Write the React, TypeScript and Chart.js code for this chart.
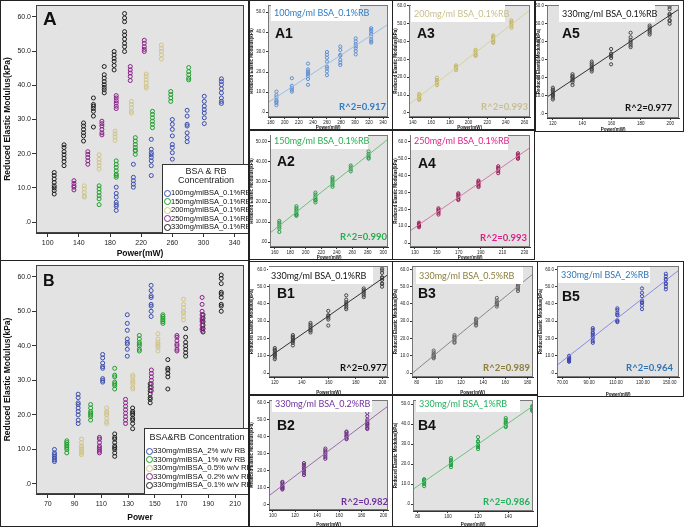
import React, { useEffect, useRef } from "react";
import { Chart, registerables } from "chart.js";
Chart.register(...registerables);

// ================= DATA =================
// Panel A : power (mW) per cluster and reduced elastic modulus (kPa) values
const A_BLUE_X = [188, 210, 233, 260, 279, 301, 323];
const A_BLUE_Y = [[3.4, 4.6, 5.1, 5.8, 7.3, 8.4, 10.2], [10.2, 11.1, 12.1, 13.1, 16.9], [13.6, 16.5, 17.9, 18.9, 19.7, 20.3, 21.3, 24.2], [18.4, 20.3, 21.8, 22.7, 25.2, 27.1, 28.6, 30], [23.5, 24.7, 26.1, 28.1, 28.6, 31, 32.7], [28.8, 30.5, 31.9, 32.9, 33.9, 35.3, 36.8], [34.7, 35.3, 36.3, 37.8, 39, 40.2, 41.1, 41.9]];
const A_GREEN_X = [166, 188, 212.5, 234.5, 258, 281];
const A_GREEN_Y = [[5.1, 6.8, 7.7, 8.7, 9.7, 10.6], [13.1, 13.6, 14, 15, 16, 16.9, 17.9], [19.8, 20.8, 21, 21.8, 22.7, 23.7, 24.7], [27.6, 28.6, 29.5, 30.5, 31.5, 32.4], [35.3, 36.3, 37.3, 38.2], [41.6, 42.1, 43.1, 44, 45.2]];
const A_TAN_X = [147, 166, 186.5, 207.5, 226.5, 246];
const A_TAN_Y = [[7.3, 7.7, 8.7, 9.7, 10.6], [15.5, 16.5, 17.4, 18.4, 19.7], [23.9, 24.9, 25.8, 26.6], [31.9, 32.4, 33.4, 34.4, 35.3], [39.2, 39.7, 40.7, 41.6, 42.6, 43.3], [47.7, 48.9, 49.9, 50.8, 51.8]];
const A_PURPLE_X = [133.7, 151.5, 169.6, 188, 206, 224];
const A_PURPLE_Y = [[9.4, 10.2, 10.6, 11.3, 12.1], [16.9, 17.9, 18.9, 19.8, 20.6], [25.5, 26.1, 27.1, 28.1, 28.8, 29.5], [33.2, 33.9, 34.8, 35.5, 36.3, 37], [41.4, 42.6, 43.6, 44.5, 45.5], [49.9, 50.5, 51.3, 52.3, 53.2]];
const A_BLACK_X = [108.4, 121, 146, 158.7, 172.6, 185.3, 198.7];
const A_BLACK_Y = [[8.2, 9.2, 10, 10.6, 11.6, 12.6, 13.6, 14.5], [16.5, 17.7, 18.7, 19.7, 20.6, 21.8, 22.6], [23.7, 25.2, 26.1, 27.1, 28.1, 29], [27.8, 31, 32.4, 33.2, 33.9, 34.4, 36.3], [37.8, 38.7, 39.4, 40.2, 41.1, 42.1, 43.1, 45.5], [44.5, 45.8, 47, 47.9, 48.9, 49.9], [49.9, 51.3, 52.3, 53.5, 54.7, 55.7, 58.6, 59.7, 61]];

// Panel B
const B_BLUE_X = [75, 92.7, 111, 129.4, 147.2];
const B_BLUE_Y = [[6.5, 7, 7.5, 8, 8.5, 9, 10], [17.5, 18.5, 20, 21, 22, 23, 23.5, 25, 26], [29.5, 30, 30.5, 33.5, 34, 35, 36.5, 37.5], [37, 39, 40.5, 41, 42, 44.5, 46.5, 49], [48.5, 50, 51.5, 52, 54, 54.5, 56, 57.5]];
const B_GREEN_X = [84.2, 102, 120, 138.4, 156];
const B_GREEN_Y = [[9, 10, 10.5, 11, 11.5, 12, 12.5], [18.5, 19.5, 20, 20.5, 21, 22, 23], [27.5, 28.5, 29, 29.5, 31, 31.5, 33.5], [38.5, 39, 40, 40.5, 41, 42, 43], [46.5, 47, 47.5, 48, 48.5, 49]];
const B_TAN_X = [95.2, 114, 133.5, 152.3, 171.4];
const B_TAN_Y = [[8.5, 9, 9.5, 10, 10.5, 11, 12, 13], [17.5, 18, 19, 20, 20.5, 21, 22], [27.5, 28, 29, 29.5, 30, 31, 31.5], [38.5, 39.5, 40, 40.5, 41, 42, 43.5], [47.5, 48.5, 49.5, 50, 51, 52, 53.5]];
const B_PURPLE_X = [108.6, 128.1, 147.4, 166.5, 185.3];
const B_PURPLE_Y = [[9, 9.5, 10, 10.5, 11, 12, 13, 13.5], [17.5, 18.5, 19.5, 20.5, 21.5, 22.5, 23.5, 24.5], [27, 28, 29, 30, 31, 32, 33], [38.5, 39, 40, 40.5, 41.5, 42.5, 43], [44.5, 45, 46, 47, 47.5, 48, 49, 50, 52, 54]];
const B_BLACK_X = [120, 133.4, 146.5, 159.7, 173, 186, 199.6];
const B_BLACK_Y = [[8, 9, 10, 10.5, 11, 12, 13, 13.5, 14.5], [16, 17.5, 18.5, 19, 20, 20.5, 21, 22], [23.5, 24.5, 25, 26, 27, 28, 29], [27.5, 31, 32, 33, 33.5, 36], [37, 38, 39, 40, 41, 42.5, 45], [44, 45, 46, 47, 48, 49], [50, 51.5, 52, 54, 55, 55.5, 58, 59.5, 60.5]];

// Legends / labels
const A_LEGEND = ["100mg/mlBSA_0.1%RB", "150mg/mlBSA_0.1%RB", "200mg/mlBSA_0.1%RB", "250mg/mlBSA_0.1%RB", "330mg/mlBSA_0.1%RB"];
const B_LEGEND = ["330mg/mlBSA_2% w/v RB", "330mg/mlBSA_1% w/v RB", "330mg/mlBSA_0.5% w/v RB", "330mg/mlBSA_0.2% w/v RB", "330mg/mlBSA_0.1% w/v RB"];
const R2 = { A1: "R^2=0.917", A2: "R^2=0.990", A3: "R^2=0.993", A4: "R^2=0.993", A5: "R^2=0.977", B1: "R^2=0.977", B2: "R^2=0.982", B3: "R^2=0.989", B4: "R^2=0.986", B5: "R^2=0.964" };

// Tick values
const A_X_TICKS = [100, 140, 180, 220, 260, 300, 340];
const B_X_TICKS = [70, 90, 110, 130, 150, 170, 190, 210];
const Y_TICKS_60 = [0, 10, 20, 30, 40, 50, 60];
const Y_TICKS_50 = [0, 10, 20, 30, 40, 50];
const A1_X_TICKS = [180, 200, 220, 240, 260, 280, 300, 320, 340];
const A2_X_TICKS = [160, 180, 200, 220, 240, 260, 280, 300];
const A3_X_TICKS = [140, 160, 180, 200, 220, 240, 260];
const A4_X_TICKS = [130, 150, 170, 190, 210, 230];
const A5_X_TICKS = [120, 140, 160, 180, 200];
const B2_X_TICKS = [100, 120, 140, 160, 180, 200];
const B3_X_TICKS = [80, 100, 120, 140, 160, 180];
const B4_X_TICKS = [80, 100, 120, 140];
const B5_X_TICKS = [70, 90, 110, 130, 150];

// ================= HELPERS =================
type Pt = { x: number; y: number };
const toPts = (xs: number[], ys: number[][]): Pt[] => xs.flatMap((x, i) => ys[i].map((y) => ({ x, y })));
function linFit(p: Pt[]) {
  const n = p.length;
  let sx = 0, sy = 0, sxx = 0, sxy = 0;
  for (const q of p) { sx += q.x; sy += q.y; sxx += q.x * q.x; sxy += q.x * q.y; }
  const m = (n * sxy - sx * sy) / (n * sxx - sx * sx);
  return { m, b: (sy - m * sx) / n };
}
const FONT = "'Liberation Sans', Arial, Helvetica, sans-serif";
const LFONT = "Lato, 'Open Sans', sans-serif";
const f1 = (v: number) => (v === 0 ? ".0" : v.toFixed(1));
const f2 = (v: number) => (v === 0 ? ".00" : v.toFixed(2));
const fi = (v: number) => String(v);

const C = { blue: "#3b4db0", green: "#1f9e2c", tan: "#d1c589", purple: "#8a2089", black: "#1e1e1e" };

const framePlugin = {
  id: "frame",
  beforeDraw(chart: any, _a: any, opts: any) {
    const { ctx, chartArea: a } = chart;
    ctx.save();
    ctx.fillStyle = opts.bg || "#e4e4e4";
    ctx.fillRect(a.left, a.top, a.right - a.left, a.bottom - a.top);
    ctx.restore();
  },
  afterDraw(chart: any, _a: any, opts: any) {
    const { ctx, chartArea: a } = chart;
    ctx.save();
    ctx.strokeStyle = opts.stroke || "#555";
    ctx.lineWidth = 1;
    ctx.strokeRect(a.left + 0.5, a.top + 0.5, a.right - a.left - 1, a.bottom - a.top - 1);
    ctx.restore();
  },
};

type Box = { l: number; t: number; r: number; b: number };
interface PlotSpec {
  box: Box; plot: Box;
  xMin: number; xMax: number; xTicks: number[]; xFmt: (v: number) => string;
  yMin: number; yMax: number; yTicks: number[]; yFmt: (v: number) => string;
  datasets: any[];
  tickFont: number; titleFont: number; xTitle: string; yTitle: string;
  tickLen: number; xTickPad: number; yTickPad: number; xTitlePad: number; yTitlePad: number;
  bg: string; stroke: string;
}

function Plot({ s }: { s: PlotSpec }) {
  const ref = useRef<HTMLCanvasElement>(null);
  const W = s.box.r - s.box.l, H = s.box.b - s.box.t;
  useEffect(() => {
    const font = (size: number, bold = false) => ({ family: FONT, size, weight: (bold ? "bold" : "normal") as any, lineHeight: 1.2 });
    const chart = new Chart(ref.current as HTMLCanvasElement, {
      type: "scatter",
      data: { datasets: s.datasets },
      options: {
        animation: false, responsive: false, devicePixelRatio: 1, events: [],
        layout: { padding: { left: 0, top: s.plot.t - s.box.t, right: s.box.r - s.plot.r, bottom: 0 } },
        plugins: { legend: { display: false }, tooltip: { enabled: false }, frame: { bg: s.bg, stroke: s.stroke } } as any,
        scales: {
          x: {
            type: "linear", min: s.xMin, max: s.xMax, bounds: "data",
            afterBuildTicks: (sc: any) => { sc.ticks = s.xTicks.map((v) => ({ value: v })); },
            afterFit: (sc: any) => { sc.height = s.box.b - s.plot.b; sc.paddingLeft = 0; sc.paddingRight = 0; },
            grid: { display: true, drawOnChartArea: false, drawTicks: true, tickLength: s.tickLen, color: "#333", lineWidth: 1 },
            border: { display: true, color: "#333", width: 1 },
            ticks: { autoSkip: false, maxRotation: 0, minRotation: 0, padding: s.xTickPad, font: font(s.tickFont), color: "#222", callback: (v: any) => s.xFmt(Number(v)) },
            title: { display: true, text: s.xTitle, font: font(s.titleFont, true), color: "#111", padding: { top: 0, bottom: s.xTitlePad } },
          },
          y: {
            type: "linear", min: s.yMin, max: s.yMax, bounds: "data",
            afterBuildTicks: (sc: any) => { sc.ticks = s.yTicks.map((v) => ({ value: v })); },
            afterFit: (sc: any) => { sc.width = s.plot.l - s.box.l; sc.paddingTop = 0; sc.paddingBottom = 0; },
            grid: { display: true, drawOnChartArea: false, drawTicks: true, tickLength: s.tickLen, color: "#333", lineWidth: 1 },
            border: { display: true, color: "#333", width: 1 },
            ticks: { autoSkip: false, padding: s.yTickPad, font: font(s.tickFont), color: "#222", callback: (v: any) => s.yFmt(Number(v)) },
            title: { display: true, text: s.yTitle, font: font(s.titleFont, true), color: "#111", padding: { top: s.yTitlePad, bottom: 0 } },
          },
        },
      },
      plugins: [framePlugin],
    });
    return () => chart.destroy();
  }, []);
  return <canvas ref={ref} width={W} height={H} style={{ position: "absolute", left: s.box.l, top: s.box.t, width: W, height: H }} />;
}

// ================= MAIN PANELS =================
const mainDs = (list: [number[], number[][], string][]) =>
  list.map(([xs, ys, color]) => ({ data: toPts(xs, ys), borderColor: color, backgroundColor: "rgba(0,0,0,0)", pointRadius: 2, pointBorderWidth: 1, showLine: false }));

const MAIN_A: PlotSpec = {
  box: { l: 1, t: 0, r: 249, b: 260 }, plot: { l: 36, t: 3, r: 248, b: 233 },
  xMin: 85, xMax: 352, xTicks: A_X_TICKS, xFmt: fi, yMin: -3.2, yMax: 63.5, yTicks: Y_TICKS_60, yFmt: f1,
  datasets: mainDs([[A_BLUE_X, A_BLUE_Y, C.blue], [A_GREEN_X, A_GREEN_Y, C.green], [A_TAN_X, A_TAN_Y, C.tan], [A_PURPLE_X, A_PURPLE_Y, C.purple], [A_BLACK_X, A_BLACK_Y, C.black]]),
  tickFont: 7, titleFont: 8.5, xTitle: "Power(mW)", yTitle: "Reduced Elastic Modulus(kPa)",
  tickLen: 4, xTickPad: 2, yTickPad: 1, xTitlePad: 1, yTitlePad: 2, bg: "#e3e3e3", stroke: "#444",
};
const MAIN_B: PlotSpec = {
  box: { l: 1, t: 260, r: 249, b: 526 }, plot: { l: 36, t: 263, r: 248, b: 494 },
  xMin: 61.2, xMax: 216.6, xTicks: B_X_TICKS, xFmt: fi, yMin: -2.9, yMax: 63.4, yTicks: Y_TICKS_60, yFmt: f1,
  datasets: mainDs([[B_BLUE_X, B_BLUE_Y, C.blue], [B_GREEN_X, B_GREEN_Y, C.green], [B_TAN_X, B_TAN_Y, C.tan], [B_PURPLE_X, B_PURPLE_Y, C.purple], [B_BLACK_X, B_BLACK_Y, C.black]]),
  tickFont: 7, titleFont: 8.5, xTitle: "Power", yTitle: "Reduced Elastic Modulus(kPa)",
  tickLen: 4, xTickPad: 2, yTickPad: 1, xTitlePad: 3, yTitlePad: 2, bg: "#e3e3e3", stroke: "#444",
};

// ================= SMALL PANELS =================
interface Small {
  name: string; label: string; text: string; pt: string; line: string;
  xs: number[]; ys: number[][];
  box: Box; plot: Box; xMin: number; xMax: number; xTicks: number[]; xFmt: (v: number) => string;
  yMin: number; yMax: number; yTicks: number[]; yFmt: (v: number) => string;
  lab: Box; nameX: number; nameCY: number; r2R: number; r2CY: number;
}
const SMALL: Small[] = [
  { name: "A1", label: "100mg/ml BSA_0.1%RB", text: "#2e7cc4", pt: "#5f90d2", line: "#9cbde6", xs: A_BLUE_X, ys: A_BLUE_Y,
    box: { l: 248, t: 0, r: 393, b: 130 }, plot: { l: 268, t: 3, r: 391, b: 117 }, xMin: 176, xMax: 347, xTicks: A1_X_TICKS, xFmt: fi,
    yMin: -2.5, yMax: 53.5, yTicks: Y_TICKS_50, yFmt: f1, lab: { l: 271, t: 5, r: 360, b: 21 }, nameX: 275, nameCY: 33, r2R: 386, r2CY: 107 },
  { name: "A3", label: "200mg/ml BSA_0.1%RB", text: "#c9bf8c", pt: "#c2b668", line: "#d8d09c", xs: A_TAN_X, ys: A_TAN_Y,
    box: { l: 392, t: 0, r: 535, b: 130 }, plot: { l: 409, t: 3, r: 533, b: 117 }, xMin: 136, xMax: 266, xTicks: A3_X_TICKS, xFmt: fi,
    yMin: -2.3, yMax: 60.4, yTicks: Y_TICKS_60, yFmt: f1, lab: { l: 411, t: 5, r: 505, b: 22 }, nameX: 417, nameCY: 33, r2R: 528, r2CY: 107 },
  { name: "A5", label: "330mg/ml BSA_0.1%RB", text: "#111", pt: "#444", line: "#333", xs: B_BLACK_X, ys: B_BLACK_Y,
    box: { l: 535, t: 0, r: 684, b: 132 }, plot: { l: 547, t: 3, r: 681, b: 118 }, xMin: 116, xMax: 206, xTicks: A5_X_TICKS, xFmt: fi,
    yMin: -2.3, yMax: 60.4, yTicks: Y_TICKS_60, yFmt: f1, lab: { l: 559, t: 5, r: 655, b: 22 }, nameX: 562, nameCY: 33, r2R: 672, r2CY: 108 },
  { name: "A2", label: "150mg/ml BSA_0.1%RB", text: "#27ae4e", pt: "#259e45", line: "#6fc07a", xs: A_GREEN_X, ys: A_GREEN_Y,
    box: { l: 248, t: 130, r: 393, b: 260 }, plot: { l: 270, t: 131, r: 392, b: 247 }, xMin: 154, xMax: 306, xTicks: A2_X_TICKS, xFmt: fi,
    yMin: -2.4, yMax: 53.4, yTicks: Y_TICKS_50, yFmt: f2, lab: { l: 271, t: 132, r: 368, b: 149 }, nameX: 277, nameCY: 161, r2R: 387, r2CY: 237 },
  { name: "A4", label: "250mg/ml BSA_0.1%RB", text: "#de1f88", pt: "#9c1f58", line: "#d27aa4", xs: A_PURPLE_X, ys: A_PURPLE_Y,
    box: { l: 392, t: 130, r: 535, b: 260 }, plot: { l: 410, t: 131, r: 533, b: 247 }, xMin: 125.5, xMax: 235, xTicks: A4_X_TICKS, xFmt: fi,
    yMin: -2.3, yMax: 64, yTicks: Y_TICKS_60, yFmt: f1, lab: { l: 411, t: 132, r: 508, b: 150 }, nameX: 418, nameCY: 163, r2R: 527, r2CY: 238 },
  { name: "B1", label: "330mg/ml BSA_0.1%RB", text: "#111", pt: "#444", line: "#333", xs: B_BLACK_X, ys: B_BLACK_Y,
    box: { l: 248, t: 261, r: 393, b: 395 }, plot: { l: 269, t: 263, r: 392, b: 377 }, xMin: 115.7, xMax: 204, xTicks: A5_X_TICKS, xFmt: fi,
    yMin: -2.3, yMax: 62, yTicks: Y_TICKS_60, yFmt: f1, lab: { l: 268, t: 267, r: 373, b: 284 }, nameX: 277, nameCY: 293, r2R: 387, r2CY: 368 },
  { name: "B3", label: "330mg/ml BSA_0.5%RB", text: "#8c7d3a", pt: "#666", line: "#888", xs: B_TAN_X, ys: B_TAN_Y,
    box: { l: 392, t: 261, r: 538, b: 395 }, plot: { l: 412, t: 263, r: 536, b: 377 }, xMin: 75.6, xMax: 185, xTicks: B3_X_TICKS, xFmt: fi,
    yMin: -2.3, yMax: 62, yTicks: Y_TICKS_60, yFmt: f1, lab: { l: 416, t: 267, r: 523, b: 284 }, nameX: 418, nameCY: 293, r2R: 530, r2CY: 368 },
  { name: "B5", label: "330mg/ml BSA_2%RB", text: "#2e75b6", pt: "#3f49b0", line: "#8a8ae6", xs: B_BLUE_X, ys: B_BLUE_Y,
    box: { l: 537, t: 261, r: 684, b: 397 }, plot: { l: 557, t: 263, r: 681, b: 377 }, xMin: 66, xMax: 157, xTicks: B5_X_TICKS, xFmt: f2,
    yMin: -2.3, yMax: 62, yTicks: Y_TICKS_60, yFmt: f1, lab: { l: 558, t: 267, r: 650, b: 283 }, nameX: 562, nameCY: 296, r2R: 673, r2CY: 368 },
  { name: "B2", label: "330mg/ml BSA_0.2%RB", text: "#7030a0", pt: "#6e2f84", line: "#9a6ab0", xs: B_PURPLE_X, ys: B_PURPLE_Y,
    box: { l: 248, t: 395, r: 393, b: 527 }, plot: { l: 269, t: 396, r: 392, b: 510 }, xMin: 96.5, xMax: 204, xTicks: B2_X_TICKS, xFmt: fi,
    yMin: -3, yMax: 61.5, yTicks: Y_TICKS_60, yFmt: f1, lab: { l: 272, t: 396, r: 372, b: 412 }, nameX: 277, nameCY: 425, r2R: 388, r2CY: 502 },
  { name: "B4", label: "330mg/ml BSA_1%RB", text: "#21b15a", pt: "#24a446", line: "#6cc27e", xs: B_GREEN_X, ys: B_GREEN_Y,
    box: { l: 392, t: 395, r: 538, b: 527 }, plot: { l: 413, t: 396, r: 536, b: 511 }, xMin: 76.8, xMax: 156.5, xTicks: B4_X_TICKS, xFmt: fi,
    yMin: -3.4, yMax: 52, yTicks: Y_TICKS_50, yFmt: f1, lab: { l: 416, t: 396, r: 520, b: 412 }, nameX: 418, nameCY: 425, r2R: 530, r2CY: 502 },
];

function smallSpec(p: Small): PlotSpec {
  const pts = toPts(p.xs, p.ys);
  const { m, b } = linFit(pts);
  return {
    box: p.box, plot: p.plot, xMin: p.xMin, xMax: p.xMax, xTicks: p.xTicks, xFmt: p.xFmt,
    yMin: p.yMin, yMax: p.yMax, yTicks: p.yTicks, yFmt: p.yFmt,
    datasets: [
      { data: [{ x: p.xMin, y: m * p.xMin + b }, { x: p.xMax, y: m * p.xMax + b }], showLine: true, borderColor: p.line, borderWidth: 1, pointRadius: 0, fill: false },
      { data: pts, borderColor: p.pt, backgroundColor: "rgba(0,0,0,0)", pointRadius: 1.6, pointBorderWidth: 1, showLine: false },
    ],
    tickFont: 4.5, titleFont: 4.5, xTitle: "Power(mW)", yTitle: "Reduced Elastic Modulus(kPa)",
    tickLen: 2, xTickPad: 1, yTickPad: 1, xTitlePad: 0, yTitlePad: 1, bg: "#e2e2e2", stroke: "#777",
  };
}

const abs = (l: number, t: number, extra: React.CSSProperties = {}): React.CSSProperties => ({ position: "absolute", left: l, top: t, ...extra });

function SmallOverlay({ p }: { p: Small }) {
  return (
    <>
      <div style={abs(p.lab.l, p.lab.t, { width: p.lab.r - p.lab.l, height: p.lab.b - p.lab.t, background: "#fff" })} />
      <div style={abs(p.lab.l + 3, p.lab.t, { height: p.lab.b - p.lab.t, lineHeight: `${p.lab.b - p.lab.t}px`, fontFamily: LFONT, fontSize: 9, color: p.text, whiteSpace: "nowrap" })}>{p.label}</div>
      <div style={abs(p.nameX, p.nameCY - 8, { lineHeight: "16px", fontFamily: FONT, fontWeight: "bold", fontSize: 14, color: "#111" })}>{p.name}</div>
      <div style={abs(p.r2R - 80, p.r2CY - 6, { width: 80, textAlign: "right", lineHeight: "12px", fontFamily: LFONT, fontWeight: "bold", fontSize: 9.5, color: p.text })}>{(R2 as any)[p.name]}</div>
    </>
  );
}

function Legend({ l, t, w, h, title, items, colors, titleCY, rowCY, circleX, textX, fs }: any) {
  return (
    <>
      <div style={abs(l, t, { width: w, height: h, background: "#fff", border: "1px solid #333", boxSizing: "border-box" })} />
      {title.map((s: string, i: number) => (
        <div key={"t" + i} style={abs(l, titleCY[i] - 6, { width: w, textAlign: "center", lineHeight: "12px", fontFamily: FONT, fontSize: 9, color: "#222" })}>{s}</div>
      ))}
      {items.map((s: string, i: number) => (
        <React.Fragment key={i}>
          <div style={abs(circleX - 3.5, rowCY[i] - 3.5, { width: 7, height: 7, borderRadius: "50%", border: `1px solid ${colors[i]}`, boxSizing: "border-box" })} />
          <div style={abs(textX, rowCY[i] - 5, { lineHeight: "10px", fontFamily: FONT, fontSize: fs, color: "#111", whiteSpace: "nowrap" })}>{s}</div>
        </React.Fragment>
      ))}
    </>
  );
}

const BORDERS: Box[] = [
  { l: 0, t: 0, r: 250, b: 261 }, { l: 0, t: 260, r: 250, b: 527 },
  ...SMALL.map((p) => p.box),
];

export default function App() {
  const colors = [C.blue, C.green, C.tan, C.purple, C.black];
  return (
    <div style={{ position: "absolute", left: 0, top: 0, width: 685, height: 527, background: "#fff", overflow: "hidden" }}>
      <Plot s={MAIN_A} />
      <Plot s={MAIN_B} />
      {SMALL.map((p) => <Plot key={p.name} s={smallSpec(p)} />)}
      <div style={abs(43, 9, { fontFamily: FONT, fontWeight: "bold", fontSize: 19, lineHeight: "20px", color: "#111" })}>A</div>
      <div style={abs(43, 272, { fontFamily: FONT, fontWeight: "bold", fontSize: 16, lineHeight: "18px", color: "#111" })}>B</div>
      <Legend l={162} t={164} w={88} h={70} title={["BSA & RB", "Concentration"]} titleCY={[171, 180]} items={A_LEGEND} colors={colors}
        rowCY={[193, 201.5, 210, 218.5, 227]} circleX={167} textX={171} fs={7.5} />
      <Legend l={144} t={428} w={106} h={67} title={["BSA&RB Concentration"]} titleCY={[437]} items={B_LEGEND} colors={colors}
        rowCY={[451, 459.5, 468, 476.5, 485]} circleX={149} textX={153} fs={7.8} />
      {SMALL.map((p) => <SmallOverlay key={"o" + p.name} p={p} />)}
      {BORDERS.map((b, i) => (
        <div key={"b" + i} style={abs(b.l, b.t, { width: b.r - b.l, height: b.b - b.t, border: "1.5px solid #222", boxSizing: "border-box", pointerEvents: "none" })} />
      ))}
    </div>
  );
}
